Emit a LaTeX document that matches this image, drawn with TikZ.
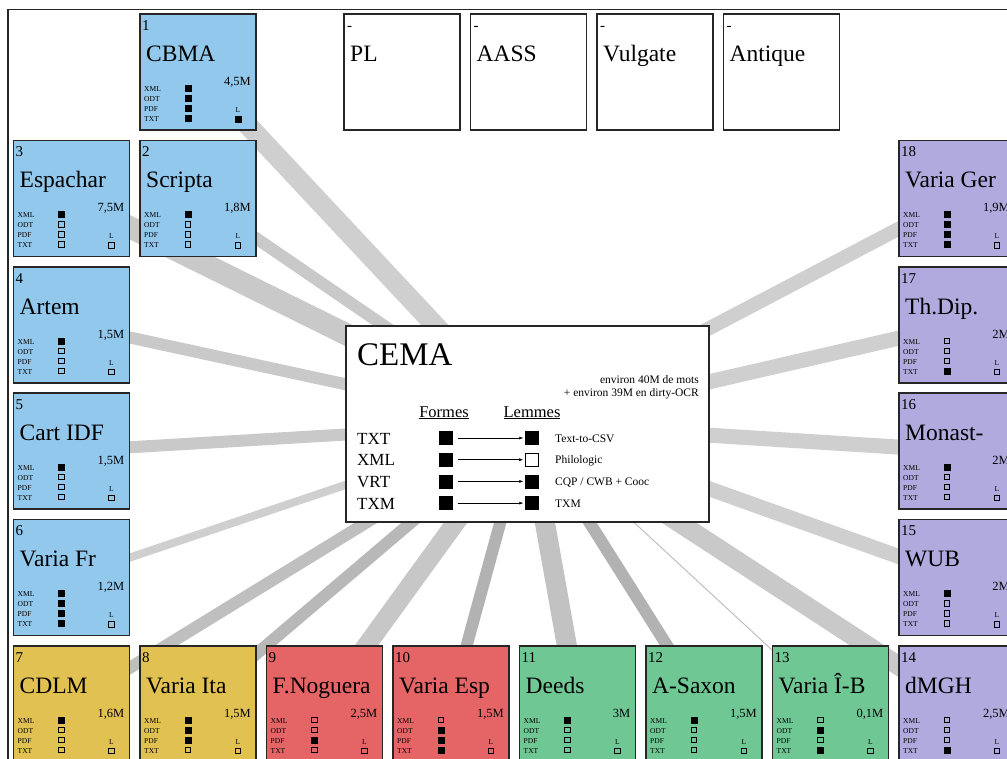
\documentclass[tikz,border=0pt]{standalone}
\usepackage{fontspec}
\setmainfont{Liberation Serif}
\usepackage{tikz}
\usetikzlibrary{arrows.meta}
\usetikzlibrary{backgrounds}
\definecolor{corpblue}{RGB}{146,200,236}
\definecolor{corpyellow}{RGB}{224,193,82}
\definecolor{corpred}{RGB}{229,101,103}
\definecolor{corpgreen}{RGB}{111,199,148}
\definecolor{corppurple}{RGB}{176,170,222}
\colorlet{framecol}{black!85}

% one corpus box: id, x, y, title, size, colour, XML/ODT/PDF/TXT flags, lemma flag
\newcommand{\Corpus}[8]{%
\node[CorpusBox, fill=#6] (c#1) at (#2,#3) {};
\begin{scope}[shift={(#2,#3)}]
\node[NumText] (c#1num) at (3,17) {#1};
\node[TitleText] (c#1title) at (7,48) {#4};
\node[SizeText] (c#1size) at (112,72) {#5};
\foreach \f [count=\i] in {XML,ODT,PDF,TXT}
  \node[FmtText] (c#1t\i) at (5,68+10*\i) {\f};
\foreach \v [count=\i] in {#7}
  \node[Sq\v] (c#1s\i) at (49,65+10*\i) {};
\node[FmtText, anchor=base] (c#1L) at (99,99) {L};
\node[Sq#8] (c#1Ls) at (99,106) {};
\end{scope}
}

% empty box of the top row
\newcommand{\Blank}[3]{%
\node[CorpusBox, fill=white] (#1) at (#2,13) {};
\node[NumText] (#1num) at (#2+4,30) {-};
\node[TitleText] (#1title) at (#2+7,61) {#3};
}

\begin{document}
\begin{tikzpicture}[
x=1pt, y=-1pt,
CorpusBox/.style={draw=framecol, line width=1.5pt, anchor=north west,
  minimum width=116pt, minimum height=116pt, inner sep=0pt},
CentreBox/.style={draw=framecol, line width=1.5pt, anchor=north west, fill=white,
  minimum width=363pt, minimum height=196pt, inner sep=0pt},
NumText/.style={anchor=base west, inner sep=0pt, font=\fontsize{15}{15}\selectfont},
TitleText/.style={anchor=base west, inner sep=0pt, font=\fontsize{23.5}{23.5}\selectfont},
SizeText/.style={anchor=base east, inner sep=0pt, font=\fontsize{12.5}{12.5}\selectfont},
FmtText/.style={anchor=base west, inner sep=0pt, font=\fontsize{7.5}{7.5}\selectfont},
Sq0/.style={draw, line width=0.6pt, fill=none, minimum size=5.5pt, inner sep=0pt},
Sq1/.style={draw, fill=black, minimum size=6pt, inner sep=0pt},
BigSq0/.style={draw, line width=0.8pt, fill=white, minimum size=13pt, inner sep=0pt},
BigSq1/.style={draw, fill=black, minimum size=13pt, inner sep=0pt},
Band/.style={line cap=butt, draw=black!21},
RowText/.style={anchor=base west, inner sep=0pt, font=\fontsize{17}{17}\selectfont},
ToolText/.style={anchor=base west, inner sep=0pt, font=\fontsize{11.5}{11.5}\selectfont}
]
\useasboundingbox (0,0) rectangle (1007,758);
\clip (0,0) rectangle (1007,758);

% top row
\Corpus{1}{139}{13}{CBMA}{4,5M}{corpblue}{1,1,1,1}{1}
\Blank{pl}{343}{PL}
\Blank{aass}{469.5}{AASS}
\Blank{vulgate}{596}{Vulgate}
\Blank{antique}{722.5}{Antique}

% left column
\Corpus{2}{139}{139.5}{Scripta}{1,8M}{corpblue}{1,0,0,0}{0}
\Corpus{3}{12.5}{139.5}{Espachar}{7,5M}{corpblue}{1,0,0,0}{0}
\Corpus{4}{12.5}{266}{Artem}{1,5M}{corpblue}{1,0,0,0}{0}
\Corpus{5}{12.5}{392}{Cart IDF}{1,5M}{corpblue}{1,0,0,0}{0}
\Corpus{6}{12.5}{518.5}{Varia Fr}{1,2M}{corpblue}{1,1,1,1}{0}

% bottom row
\Corpus{7}{12.5}{645}{CDLM}{1,6M}{corpyellow}{1,0,0,0}{0}
\Corpus{8}{139}{645}{Varia Ita}{1,5M}{corpyellow}{1,1,1,0}{0}
\Corpus{9}{265.5}{645}{F.Noguera}{2,5M}{corpred}{0,0,1,0}{0}
\Corpus{10}{392}{645}{Varia Esp}{1,5M}{corpred}{0,1,1,1}{0}
\Corpus{11}{518.5}{645}{Deeds}{3M}{corpgreen}{1,0,0,0}{0}
\Corpus{12}{645}{645}{A-Saxon}{1,5M}{corpgreen}{1,0,0,0}{0}
\Corpus{13}{771.5}{645}{Varia Î-B}{0,1M}{corpgreen}{0,1,0,1}{0}
\Corpus{14}{898}{645}{dMGH}{2,5M}{corppurple}{0,0,0,1}{0}

% right column
\Corpus{15}{898}{518.5}{WUB}{2M}{corppurple}{1,0,0,0}{0}
\Corpus{16}{898}{392}{Monast-}{2M}{corppurple}{1,0,0,0}{0}
\Corpus{17}{898}{266}{Th.Dip.}{2M}{corppurple}{0,0,0,1}{0}
\Corpus{18}{898}{139.5}{Varia Ger}{1,9M}{corppurple}{1,1,1,1}{0}

% centre
\node[CentreBox] (cema) at (345,325) {};
\begin{scope}[shift={(345,325)}]
\node[anchor=base west, inner sep=0pt, font=\fontsize{33}{33}\selectfont] (cematitle) at (12,40) {CEMA};
\node[anchor=base east, inner sep=0pt, font=\fontsize{11.5}{11.5}\selectfont] (words) at (354,58) {environ 40M de mots};
\node[anchor=base east, inner sep=0pt, font=\fontsize{11.5}{11.5}\selectfont] (ocr) at (354,71) {+ environ 39M en dirty-OCR};
\node[anchor=base, inner sep=0pt, font=\fontsize{16.5}{16.5}\selectfont] (formes) at (99,92) {\underline{Formes}};
\node[anchor=base, inner sep=0pt, font=\fontsize{16.5}{16.5}\selectfont] (lemmes) at (187,92) {\underline{Lemmes}};
\foreach \t/\tool/\l [count=\i] in {TXT/Text-to-CSV/1, XML/Philologic/0, VRT/{CQP / CWB + Cooc}/1, TXM/TXM/1}{
  \pgfmathsetmacro{\ry}{113+21.7*(\i-1)}
  \node[RowText] (r\i) at (12,\ry+6) {\t};
  \node[BigSq1] (f\i) at (101,\ry) {};
  \node[BigSq\l] (l\i) at (187,\ry) {};
  \node[ToolText] (tool\i) at (210,\ry+4) {\tool};
  \draw[-{Latex[length=4pt, width=3pt]}, line width=0.5pt, shorten <=5pt, shorten >=2pt] (f\i) -- (l\i);
}
\end{scope}

\begin{scope}[on background layer]
\fill[white] (0,0) rectangle (1007,758);
\draw[framecol, line width=1.5pt] (8,770) -- (8,9.5) -- (1020,9.5);
% bands, width after the size of each corpus
\foreach \n/\w/\g in {1/20/19, 2/12/21, 3/22/21, 4/12/21, 5/12/21, 6/8/19, 7/12/25,
  8/12/28, 9/19/22, 10/12/30, 11/20/24, 12/12/30, 13/1/25, 14/19/21, 15/15/19,
  16/15/19, 17/15/19, 18/14/19}
  \draw[Band, draw=black!\g, line width=\w pt] (c\n.center) -- (cema.center);
\end{scope}
\end{tikzpicture}
\end{document}
